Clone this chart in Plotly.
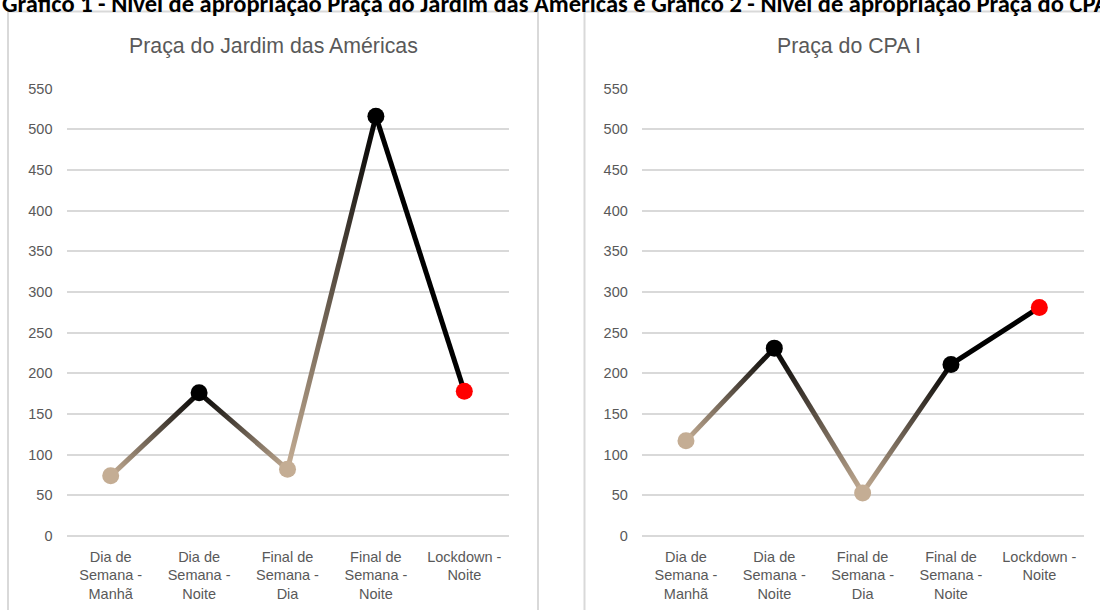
import plotly.graph_objects as go

# --- data -------------------------------------------------------------
categories = [
    "Dia de Semana - Manhã",
    "Dia de Semana - Noite",
    "Final de Semana - Dia",
    "Final de Semana - Noite",
    "Lockdown - Noite",
]
tick_labels = [
    "Dia de<br>Semana -<br>Manhã",
    "Dia de<br>Semana -<br>Noite",
    "Final de<br>Semana -<br>Dia",
    "Final de<br>Semana -<br>Noite",
    "Lockdown -<br>Noite",
]
jardim_americas = [74, 176, 82, 516, 178]
cpa_i = [117, 231, 53, 211, 281]

y_ticks = list(range(0, 551, 50))

main_title = ("Gráfico 1 - Nível de apropriação Praça do Jardim das Américas e "
              "Gráfico 2 - Nível de apropriação Praça do CPA I")
panel_titles = ["Praça do Jardim das Américas", "Praça do CPA I"]

# --- styling ----------------------------------------------------------
TAN = "#c4ad94"
BLACK = "#000000"
RED = "#ff0000"
GRID = "#d9d9d9"
TEXT = "#595959"
FONT = "Liberation Sans, Arial, sans-serif"

marker_colors = [TAN, BLACK, TAN, BLACK, RED]
# colour each line end takes at a point (the red point joins with black)
line_end_colors = [TAN, BLACK, TAN, BLACK, BLACK]

W, H = 1100, 610


def px(x):
    return x / W


def py(y):
    return (H - y) / H


fig = go.Figure()

panels = [("x", "y", jardim_americas), ("x2", "y2", cpa_i)]
for xa, ya, values in panels:
    # one trace per segment so each can carry its own colour ramp
    for i in range(len(categories) - 1):
        c0, c1 = line_end_colors[i], line_end_colors[i + 1]
        fig.add_trace(go.Scatter(
            x=categories[i:i + 2], y=values[i:i + 2],
            mode="lines", xaxis=xa, yaxis=ya,
            line=dict(color=c1 if c0 == c1 else "#625446", width=5),
            meta={"gradient": [c0, c1]},
            hoverinfo="skip", showlegend=False,
        ))
    fig.add_trace(go.Scatter(
        x=categories, y=values, mode="markers", xaxis=xa, yaxis=ya,
        marker=dict(size=17, color=marker_colors, line=dict(width=0)),
        showlegend=False,
    ))

x_domains = [[px(66.5), px(508.5)], [px(641.8), px(1083.5)]]
y_domain = [py(536), py(88.7)]

axis_common_x = dict(
    type="category", categoryorder="array", categoryarray=categories,
    range=[-0.5, 4.5], tickmode="array", tickvals=categories, ticktext=tick_labels,
    showgrid=False, zeroline=False, showline=False, ticks="",
    ticklabelstandoff=10, automargin=False,
    tickfont=dict(family=FONT, size=14.5, color=TEXT), fixedrange=True,
)
axis_common_y = dict(
    range=[0, 550], tickmode="array", tickvals=y_ticks,
    showgrid=True, gridcolor=GRID, gridwidth=1.5,
    zeroline=True, zerolinecolor=GRID, zerolinewidth=1.5,
    showline=False, ticks="", ticklabelstandoff=13, automargin=False,
    tickfont=dict(family=FONT, size=14.5, color=TEXT), fixedrange=True,
)

layout = dict(
    width=W, height=H,
    margin=dict(l=0, r=0, t=0, b=0, pad=0, autoexpand=False),
    paper_bgcolor="white", plot_bgcolor="white",
    xaxis=dict(domain=x_domains[0], anchor="y", **axis_common_x),
    yaxis=dict(domain=y_domain, anchor="x", **axis_common_y),
    xaxis2=dict(domain=x_domains[1], anchor="y2", **axis_common_x),
    yaxis2=dict(domain=y_domain, anchor="x2", **axis_common_y),
    shapes=[
        dict(type="rect", xref="paper", yref="paper",
             x0=px(8), x1=px(538), y0=-0.2, y1=py(11.5),
             line=dict(color=GRID, width=2), layer="below"),
        dict(type="rect", xref="paper", yref="paper",
             x0=px(584.5), x1=px(1114.5), y0=-0.2, y1=py(11.5),
             line=dict(color=GRID, width=2), layer="below"),
    ],
    annotations=[
        # page caption running across the top edge
        dict(text=f"<b>{main_title}</b>", xref="paper", yref="paper",
             x=0, y=py(4), xanchor="left", yanchor="middle", showarrow=False,
             font=dict(family="Carlito, Liberation Sans Narrow, DejaVu Sans Condensed, sans-serif",
                       size=24.5, color="#000000")),
        dict(text=panel_titles[0], xref="paper", yref="paper",
             x=px(273), y=py(46), xanchor="center", yanchor="middle",
             showarrow=False, font=dict(family=FONT, size=21.3, color=TEXT)),
        dict(text=panel_titles[1], xref="paper", yref="paper",
             x=px(849), y=py(46), xanchor="center", yanchor="middle",
             showarrow=False, font=dict(family=FONT, size=21.3, color=TEXT)),
    ],
)
fig.update_layout(**layout)

# Paint every line segment with a linear colour ramp between its end colours.
gradient_js = """
var gd = document.getElementById('{plot_id}');
var NS = 'http://www.w3.org/2000/svg';
var svg = gd.querySelector('svg.main-svg');
var defs = svg.querySelector('defs');
if (!defs) { defs = document.createElementNS(NS, 'defs'); svg.insertBefore(defs, svg.firstChild); }
gd.querySelectorAll('g.trace.scatter').forEach(function (g, k) {
  var cd = g.__data__;
  if (!cd || !cd[0] || !cd[0].trace) return;
  var tr = gd.data[cd[0].trace.index];
  var m = tr && tr.meta;
  if (!m || !m.gradient) return;
  var p = g.querySelector('path.js-line');
  if (!p) return;
  var nums = (p.getAttribute('d').match(/-?\\d+(\\.\\d+)?/g) || []).map(Number);
  if (nums.length < 4) return;
  var id = 'seg-ramp-' + k;
  var lg = document.createElementNS(NS, 'linearGradient');
  lg.setAttribute('id', id);
  lg.setAttribute('gradientUnits', 'userSpaceOnUse');
  lg.setAttribute('x1', nums[0]);
  lg.setAttribute('y1', nums[1]);
  lg.setAttribute('x2', nums[nums.length - 2]);
  lg.setAttribute('y2', nums[nums.length - 1]);
  m.gradient.forEach(function (c, i) {
    var s = document.createElementNS(NS, 'stop');
    s.setAttribute('offset', i / (m.gradient.length - 1));
    s.setAttribute('stop-color', c);
    lg.appendChild(s);
  });
  defs.appendChild(lg);
  p.style.stroke = 'url(#' + id + ')';
});
"""

fig.write_html("out.html", config={"displayModeBar": False}, post_script=gradient_js)
